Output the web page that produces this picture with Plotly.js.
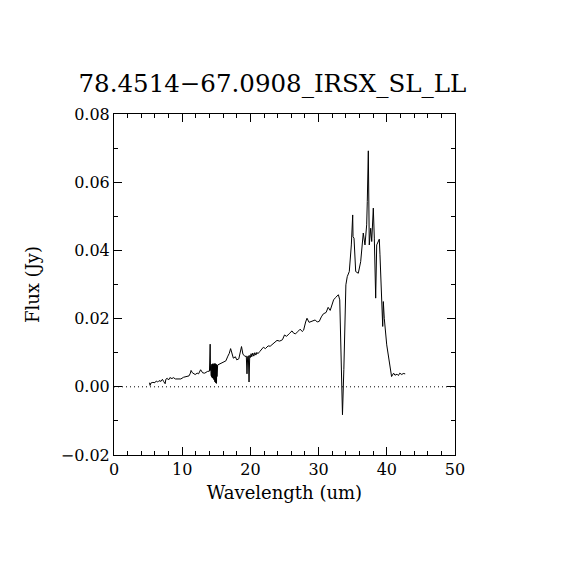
<!DOCTYPE html>
<html>
<head>
<meta charset="utf-8">
<script src="https://cdn.plot.ly/plotly-3.0.1.min.js"></script>
<style>html,body{margin:0;padding:0;background:#fff;}#chart{width:570px;height:570px;}</style>
</head>
<body>
<div id="chart"></div>
<script>
const chartTitle = "78.4514\u221267.0908_IRSX_SL_LL";
const xLabel = "Wavelength (um)";
const yLabel = "Flux (Jy)";

const wavelength = [
 5.2, 5.3, 5.4, 5.7, 6.0, 6.2, 6.4, 6.6, 6.9, 7.1, 7.3, 7.5, 7.6, 7.8, 8.0, 8.2, 8.5, 8.7, 9.0, 9.4,
 9.8, 10.2, 10.6, 11.0, 11.2, 11.3, 11.5, 11.9, 12.2, 12.4, 12.7, 13.0, 13.3, 13.7, 14.0, 14.1, 14.15,
 14.2, 14.23, 14.26, 14.3, 14.33, 14.36, 14.4, 14.43, 14.46, 14.5, 14.53, 14.56, 14.6, 14.63, 14.66, 14.7,
 14.73, 14.76, 14.8, 14.83, 14.86, 14.9, 14.93, 14.96, 15.0, 15.03, 15.06, 15.1,
 15.2, 15.5, 15.8, 16.1, 16.4, 16.7, 16.9, 17.1, 17.3, 17.5, 17.8, 18.0, 18.3, 18.6, 18.7,
 18.9, 19.2, 19.4, 19.5, 19.6, 19.7, 19.8, 19.9, 20.0, 20.1, 20.2, 20.35, 20.5, 20.65, 20.8, 20.95, 21.1,
 21.4, 21.7, 21.9, 22.2, 22.6, 22.9, 23.2, 23.6, 23.9, 24.3, 24.7, 25.0, 25.3, 25.7, 26.1, 26.3, 26.6,
 27.0, 27.3, 27.6, 27.8, 28.1, 28.3, 28.6, 29.0, 29.5, 29.8, 30.1, 30.4, 30.7, 31.1, 31.4, 31.7, 32.0,
 32.2, 32.5, 32.9, 33.1, 33.3, 33.5, 33.7, 33.9, 34.0, 34.2, 34.5, 34.8, 34.95, 35.0, 35.05, 35.19,
 35.44, 35.82, 36.17, 36.55, 36.8, 37.05, 37.14, 37.29, 37.43, 37.64, 37.79, 38.02, 38.17, 38.37, 38.52,
 38.9, 39.0, 39.25, 39.4, 39.49, 39.63, 39.99, 40.2, 40.5, 40.7, 41.0, 41.2, 41.5, 41.7, 41.9, 42.2, 42.4, 42.7
];
const flux = [
 0.0012, 0.0004, 0.0011, 0.0013, 0.0012, 0.0017, 0.0014, 0.0018, 0.0016, 0.0022, 0.0015, 0.0009, 0.0022, 0.0025, 0.0020, 0.0027, 0.0024, 0.0027, 0.0023, 0.0024,
 0.0023, 0.0028, 0.0031, 0.0032, 0.0040, 0.0048, 0.0041, 0.0036, 0.0040, 0.0038, 0.0050, 0.0041, 0.0040, 0.0045, 0.0046, 0.0125, 0.0048,
 0.0060, 0.0034, 0.0063, 0.0030, 0.0066, 0.0029, 0.0064, 0.0026, 0.0067, 0.0027, 0.0068, 0.0024, 0.0065, 0.0022, 0.0066, 0.0020,
 0.0068, 0.0016, 0.0066, 0.0014, 0.0068, 0.0012, 0.0065, 0.0011, 0.0066, 0.0010, 0.0064, 0.0030,
 0.0064, 0.0067, 0.0070, 0.0072, 0.0076, 0.0090, 0.0098, 0.0112, 0.0099, 0.0084, 0.0088, 0.0079, 0.0082, 0.0106, 0.0118,
 0.0096, 0.0089, 0.0090, 0.0038, 0.0088, 0.0091, 0.0014, 0.0092, 0.0086, 0.0097, 0.0088, 0.0099, 0.0090, 0.0100, 0.0093, 0.0101, 0.0097,
 0.0104, 0.0110, 0.0116, 0.0112, 0.0120, 0.0119, 0.0125, 0.0131, 0.0136, 0.0134, 0.0138, 0.0152, 0.0148, 0.0156, 0.0164, 0.0158, 0.0155,
 0.0163, 0.0169, 0.0162, 0.0166, 0.0190, 0.0201, 0.0189, 0.0193, 0.0196, 0.0190, 0.0192, 0.0205, 0.0214, 0.0218, 0.0233, 0.0224, 0.0245,
 0.0255, 0.0262, 0.0270, 0.0255, 0.0050, -0.0082, 0.0050, 0.0196, 0.0299, 0.0323, 0.0338, 0.0416, 0.0496, 0.0504, 0.0440, 0.0436,
 0.0338, 0.0333, 0.0367, 0.0451, 0.0416, 0.0475, 0.0543, 0.0692, 0.0416, 0.0465, 0.0426, 0.0524, 0.0436, 0.0260, 0.0416,
 0.0433, 0.0387, 0.0260, 0.0177, 0.0250, 0.0201, 0.0123, 0.0099, 0.0060, 0.0030, 0.0040, 0.0034, 0.0037, 0.0033, 0.0040, 0.0036, 0.0039, 0.0038
];

const xRange = [0, 50];
const yRange = [-0.02, 0.08];

const fontFam = "DejaVu Serif, Liberation Serif, serif";

const trace = {
  x: wavelength, y: flux, type: 'scatter', mode: 'lines',
  line: {color: '#000', width: 1}, hoverinfo: 'skip'
};

const axisCommon = {
  showline: true, linecolor: '#000', linewidth: 1, mirror: 'ticks',
  ticks: 'inside', ticklen: 8, tickwidth: 1, tickcolor: '#000',
  showgrid: false, zeroline: false,
  tickfont: {family: fontFam, size: 16, color: '#000'}
};

const layout = {
  width: 570, height: 570,
  paper_bgcolor: '#fff', plot_bgcolor: '#fff',
  margin: {l: 114, r: 115, t: 114, b: 115},
  showlegend: false,
  title: {text: chartTitle, font: {family: fontFam, size: 24.5, color: '#000'},
          xref: 'container', x: 0.478, xanchor: 'center',
          yref: 'container', y: 0.854, yanchor: 'middle'},
  xaxis: Object.assign({}, axisCommon, {
    range: xRange, tickvals: [0, 10, 20, 30, 40, 50],
    minor: {dtick: 2, ticks: 'inside', ticklen: 4, tickcolor: '#000', showgrid: false},
    title: {text: xLabel, font: {family: fontFam, size: 18, color: '#000'}, standoff: 8}
  }),
  yaxis: Object.assign({}, axisCommon, {
    range: yRange, tickvals: [-0.02, 0, 0.02, 0.04, 0.06, 0.08], tickformat: '.2f',
    minor: {dtick: 0.01, ticks: 'inside', ticklen: 4, tickcolor: '#000', showgrid: false},
    title: {text: yLabel, font: {family: fontFam, size: 18, color: '#000'}, standoff: 16}
  }),
  shapes: [{type: 'line', xref: 'paper', x0: 0, x1: 1, yref: 'y', y0: 0, y1: 0,
            line: {color: '#000', width: 1, dash: '1px,3px'}}]
};

Plotly.newPlot('chart', [trace], layout, {displayModeBar: false, staticPlot: true});
</script>
</body>
</html>
